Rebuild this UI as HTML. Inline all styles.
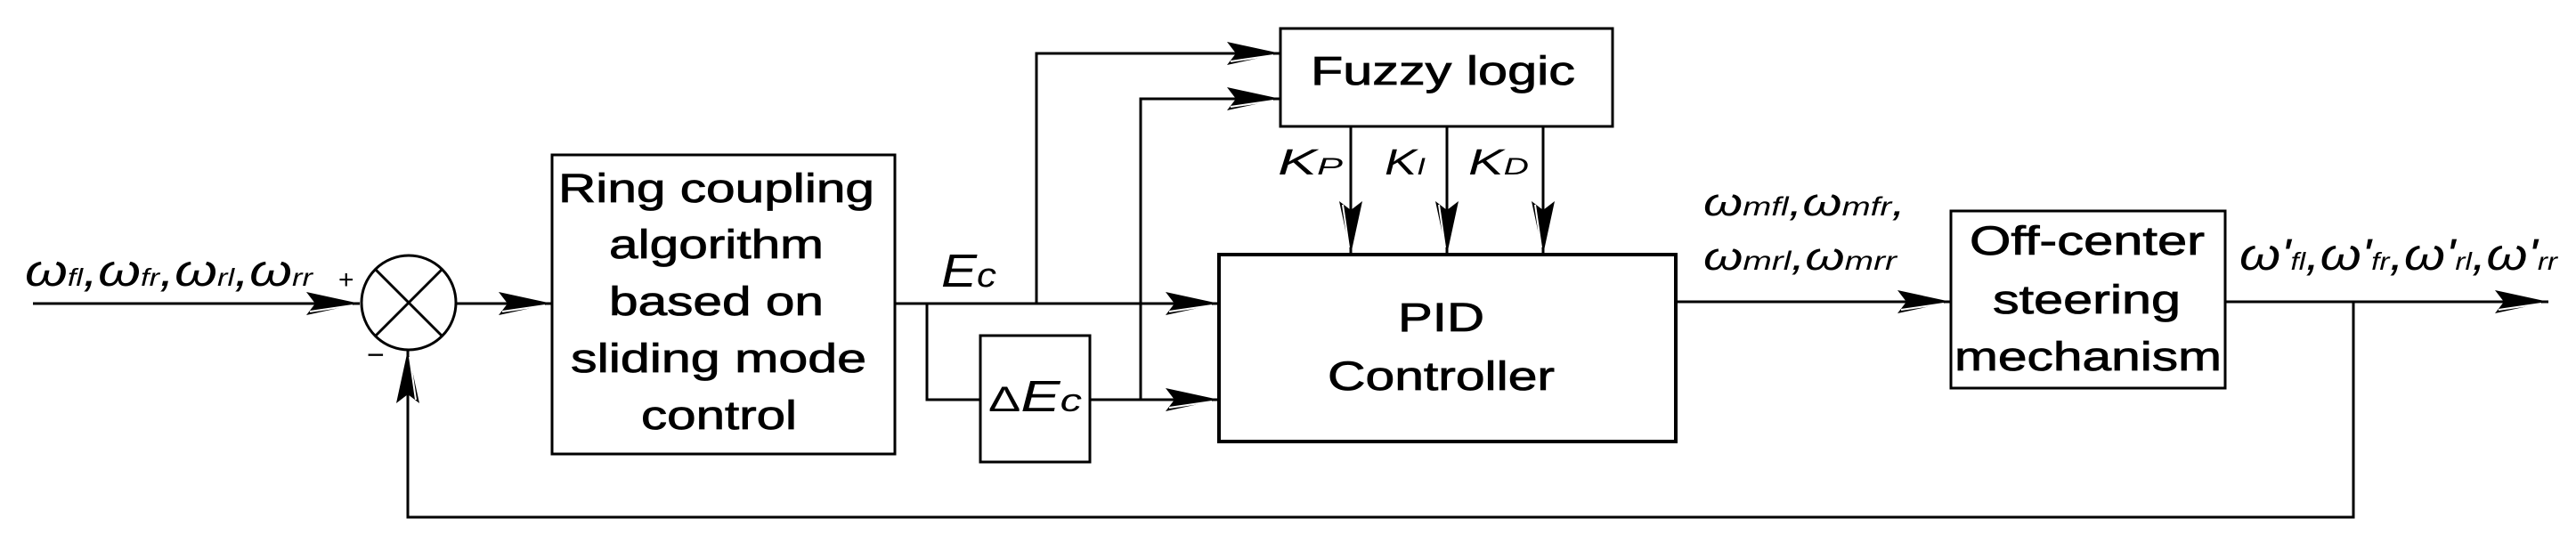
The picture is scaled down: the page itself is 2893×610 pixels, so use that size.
<!DOCTYPE html>
<html><head><meta charset="utf-8"><style>html,body{margin:0;padding:0;background:#fff;}svg{display:block}</style></head>
<body>
<svg width="2893" height="610" viewBox="0 0 2893 610" xmlns="http://www.w3.org/2000/svg" font-family="Liberation Sans, Arial, sans-serif">
<defs>
<g id="ah">
<polygon points="0,0 -60,-13 -50,0 -60,13" fill="#000"/>
<line x1="-56" y1="9" x2="-8" y2="2" stroke="#fff" stroke-width="2"/>
</g>
</defs>
<g stroke="#000" stroke-width="3" fill="none">
<line x1="37" y1="341" x2="404" y2="341"/>
<circle cx="459" cy="340" r="53"/>
<line x1="421" y1="302" x2="497" y2="378"/>
<line x1="497" y1="302" x2="421" y2="378"/>
<line x1="512" y1="341" x2="620" y2="341"/>
<rect x="620" y="174" width="385" height="336"/>
<line x1="1005" y1="341" x2="1369" y2="341"/>
<polyline points="1041,341 1041,449 1101,449"/>
<rect x="1101" y="377" width="123" height="142"/>
<line x1="1224" y1="449" x2="1369" y2="449"/>
<polyline points="1164,341 1164,60 1438,60"/>
<polyline points="1281,449 1281,111 1438,111"/>
<rect x="1438" y="32" width="373" height="110"/>
<line x1="1517" y1="142" x2="1517" y2="286"/>
<line x1="1625" y1="142" x2="1625" y2="286"/>
<line x1="1733" y1="142" x2="1733" y2="286"/>
<rect x="1369" y="286" width="513" height="210" stroke-width="4"/>
<line x1="1882" y1="339" x2="2191" y2="339"/>
<rect x="2191" y="237" width="308" height="199"/>
<line x1="2499" y1="339" x2="2862" y2="339"/>
<polyline points="2643,339 2643,581 458,581 458,393"/>
</g>
<use href="#ah" transform="translate(404,341)"/>
<use href="#ah" transform="translate(620,341)"/>
<use href="#ah" transform="translate(1369,341)"/>
<use href="#ah" transform="translate(1369,449)"/>
<use href="#ah" transform="translate(1438,60)"/>
<use href="#ah" transform="translate(1438,111)"/>
<use href="#ah" transform="translate(1517,286) rotate(90)"/>
<use href="#ah" transform="translate(1625,286) rotate(90)"/>
<use href="#ah" transform="translate(1733,286) rotate(90)"/>
<use href="#ah" transform="translate(2191,339)"/>
<use href="#ah" transform="translate(2862,339)"/>
<use href="#ah" transform="translate(458,393) rotate(-90)"/>
<text x="380" y="324" font-size="30">+</text>
<text x="412" y="410" font-size="34">−</text>
<g font-size="45" stroke="#000" stroke-width="0.8">
<text x="627" y="227" textLength="355" lengthAdjust="spacingAndGlyphs">Ring coupling</text>
<text x="684" y="290" textLength="241" lengthAdjust="spacingAndGlyphs">algorithm</text>
<text x="684" y="354" textLength="241" lengthAdjust="spacingAndGlyphs">based on</text>
<text x="641" y="418" textLength="332" lengthAdjust="spacingAndGlyphs">sliding mode</text>
<text x="720" y="482" textLength="175" lengthAdjust="spacingAndGlyphs">control</text>
<text x="1472" y="95" textLength="297" lengthAdjust="spacingAndGlyphs">Fuzzy logic</text>
<text x="1570" y="372" textLength="97" lengthAdjust="spacingAndGlyphs">PID</text>
<text x="1491" y="438" textLength="255" lengthAdjust="spacingAndGlyphs">Controller</text>
<text x="2212" y="286" textLength="264" lengthAdjust="spacingAndGlyphs">Off-center</text>
<text x="2238" y="352" textLength="211" lengthAdjust="spacingAndGlyphs">steering</text>
<text x="2195" y="416" textLength="300" lengthAdjust="spacingAndGlyphs">mechanism</text>
</g>
<g font-style="italic">
<text x="28" y="321" font-size="50" textLength="323" lengthAdjust="spacingAndGlyphs">ω<tspan font-size="28">fl</tspan>,ω<tspan font-size="28">fr</tspan>,ω<tspan font-size="28">rl</tspan>,ω<tspan font-size="28">rr</tspan></text>
<text x="1057" y="322" font-size="52" textLength="62" lengthAdjust="spacingAndGlyphs">E<tspan font-size="38">c</tspan></text>
<text x="1110" y="462" textLength="105" lengthAdjust="spacingAndGlyphs"><tspan font-size="40" font-style="normal">Δ</tspan><tspan font-size="49">E</tspan><tspan font-size="36">c</tspan></text>
<text x="1435" y="196" font-size="41" textLength="73" lengthAdjust="spacingAndGlyphs">K<tspan font-size="27">P</tspan></text>
<text x="1555" y="196" font-size="41" textLength="46" lengthAdjust="spacingAndGlyphs">K<tspan font-size="27">I</tspan></text>
<text x="1649" y="196" font-size="41" textLength="68" lengthAdjust="spacingAndGlyphs">K<tspan font-size="27">D</tspan></text>
<text x="1913" y="242" font-size="44" textLength="227" lengthAdjust="spacingAndGlyphs">ω<tspan font-size="30">mfl</tspan>,ω<tspan font-size="30">mfr</tspan>,</text>
<text x="1913" y="303" font-size="44" textLength="217" lengthAdjust="spacingAndGlyphs">ω<tspan font-size="30">mrl</tspan>,ω<tspan font-size="30">mrr</tspan></text>
<text x="2515" y="303" font-size="50" textLength="357" lengthAdjust="spacingAndGlyphs">ω'<tspan font-size="28">fl</tspan>,ω'<tspan font-size="28">fr</tspan>,ω'<tspan font-size="28">rl</tspan>,ω'<tspan font-size="28">rr</tspan></text>
</g>
</svg>
</body></html>
